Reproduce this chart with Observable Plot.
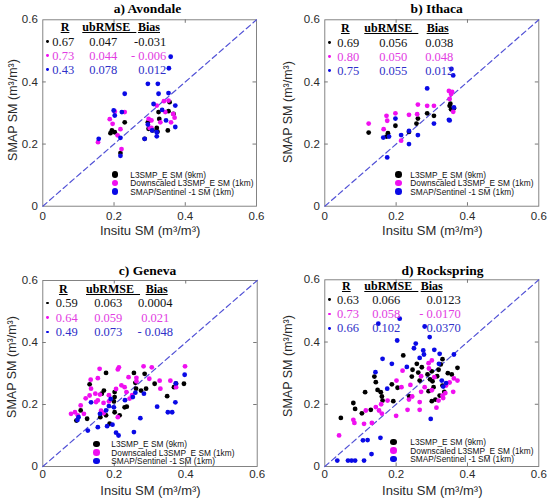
<!DOCTYPE html>
<html><head><meta charset="utf-8">
<script src="https://cdn.jsdelivr.net/npm/d3@7"></script>
<script src="https://cdn.jsdelivr.net/npm/@observablehq/plot@0.6"></script>
<style>
html,body{margin:0;padding:0;background:#fff;}
#root{position:relative;width:550px;height:499px;overflow:hidden;background:#fff;font-family:"Liberation Sans",Arial,sans-serif;}
.cell{position:absolute;width:275px;height:250px;}
.cell svg{position:absolute;left:0;top:0;overflow:visible;}
.t{position:absolute;white-space:nowrap;line-height:1;}
.serif{font-family:"Liberation Serif","Times New Roman",serif;}
.dot{position:absolute;border-radius:50%;}
</style></head>
<body><div id="root"></div>
<script>
// ---------- data ----------
const tickValues = [0, 0.2, 0.4, 0.6];
const innerTicks = [0.2, 0.4];
const oneToOne = [0, 0.6];
const panelTitles = ["a) Avondale", "b) Ithaca", "c) Geneva", "d) Rockspring"];
const seriesLabels = ["L3SMP_E SM (9km)", "Downscaled L3SMP_E SM (1km)", "SMAP/Sentinel -1 SM (1km)"];
const statHeaders = ["R", "ubRMSE", "Bias"];
const statR = [["0.67","0.73","0.43"],["0.69","0.80","0.75"],["0.59","0.64","0.49"],["0.63","0.73","0.66"]];
const statUb = [["0.047","0.044","0.078"],["0.056","0.050","0.055"],["0.063","0.059","0.073"],["0.066","0.058","0.102"]];
const statBias = [["-0.031","- 0.006","0.012"],["0.038","0.048","0.012"],["0.0004","0.021","- 0.048"],["0.0123","- 0.0170","0.0370"]];

// Avondale
const aBlackX = [0.194,0.190,0.202,0.230,0.218,0.295,0.286,0.297,0.308,0.320,0.325,0.327,0.353,0.356,0.367,0.351,0.322];
const aBlackY = [0.244,0.235,0.238,0.270,0.171,0.270,0.217,0.249,0.244,0.252,0.303,0.281,0.306,0.335,0.297,0.244,0.240];
const aMagX = [0.202,0.188,0.155,0.196,0.218,0.230,0.221,0.320,0.353,0.344,0.297,0.305,0.366,0.370,0.305,0.300,0.330,0.360,0.340,0.210];
const aMagY = [0.305,0.280,0.206,0.265,0.248,0.303,0.184,0.324,0.340,0.303,0.281,0.276,0.297,0.285,0.252,0.252,0.270,0.270,0.338,0.228];
const aBlueX = [0.359,0.354,0.295,0.323,0.230,0.325,0.353,0.311,0.372,0.199,0.222,0.202,0.295,0.346,0.307,0.320,0.157,0.218,0.286,0.320,0.218,0.372,0.335];
const aBlueY = [0.481,0.444,0.394,0.394,0.362,0.362,0.364,0.329,0.324,0.308,0.303,0.292,0.263,0.276,0.244,0.238,0.217,0.220,0.217,0.225,0.162,0.255,0.310];
// Ithaca
const bBlackX = [0.123,0.173,0.177,0.198,0.236,0.257,0.261,0.287,0.306,0.350,0.354,0.362,0.352];
const bBlackY = [0.237,0.224,0.235,0.259,0.239,0.266,0.282,0.299,0.291,0.323,0.312,0.315,0.330];
const bMagX = [0.123,0.173,0.175,0.198,0.165,0.214,0.236,0.261,0.259,0.287,0.306,0.348,0.354,0.360,0.350,0.357];
const bMagY = [0.266,0.291,0.275,0.299,0.248,0.211,0.294,0.327,0.296,0.323,0.323,0.371,0.361,0.304,0.345,0.368];
const bBlueX = [0.287,0.355,0.360,0.348,0.350,0.306,0.198,0.164,0.180,0.214,0.236,0.261,0.175,0.236,0.362];
const bBlueY = [0.379,0.442,0.421,0.278,0.276,0.266,0.282,0.221,0.224,0.229,0.200,0.229,0.157,0.242,0.318];
// Geneva
const cBlackX = [0.177,0.255,0.285,0.131,0.171,0.201,0.259,0.261,0.275,0.289,0.313,0.373,0.367,0.395,0.348,0.201,0.199,0.229,0.235,0.201,0.215,0.177,0.161,0.187,0.106,0.094,0.124,0.165];
const cBlackY = [0.302,0.302,0.299,0.265,0.245,0.240,0.270,0.251,0.245,0.251,0.267,0.267,0.256,0.267,0.227,0.224,0.210,0.191,0.193,0.175,0.165,0.165,0.159,0.138,0.181,0.148,0.154,0.235];
const cMagX = [0.159,0.210,0.213,0.282,0.305,0.398,0.154,0.134,0.240,0.298,0.327,0.357,0.373,0.329,0.135,0.131,0.147,0.160,0.185,0.229,0.234,0.154,0.149,0.185,0.106,0.079,0.098,0.090,0.115,0.210,0.163,0.170,0.250,0.262,0.262,0.220,0.243,0.120,0.170,0.205];
const cMagY = [0.315,0.313,0.320,0.323,0.320,0.323,0.285,0.280,0.288,0.283,0.277,0.277,0.256,0.251,0.251,0.229,0.235,0.232,0.230,0.256,0.240,0.213,0.208,0.210,0.197,0.170,0.165,0.175,0.170,0.159,0.180,0.172,0.230,0.275,0.286,0.262,0.219,0.220,0.205,0.250];
const cBlueX = [0.397,0.259,0.252,0.283,0.190,0.135,0.199,0.185,0.320,0.350,0.362,0.371,0.177,0.160,0.100,0.097,0.273,0.180,0.154,0.126,0.205,0.212,0.255,0.195,0.230,0.372];
const cBlueY = [0.296,0.238,0.224,0.235,0.218,0.207,0.191,0.195,0.193,0.175,0.175,0.207,0.181,0.170,0.159,0.150,0.156,0.130,0.127,0.116,0.109,0.100,0.111,0.135,0.214,0.268];
// Rockspring
const dBlackX = [0.045,0.080,0.085,0.104,0.113,0.129,0.139,0.143,0.148,0.157,0.160,0.162,0.192,0.188,0.204,0.220,0.237,0.244,0.246,0.258,0.262,0.266,0.272,0.288,0.291,0.300,0.302,0.319,0.325,0.330,0.356,0.372,0.300,0.322,0.310,0.295,0.335,0.345,0.315,0.330,0.305];
const dBlackY = [0.156,0.204,0.185,0.171,0.239,0.182,0.289,0.271,0.246,0.239,0.225,0.212,0.210,0.264,0.253,0.357,0.225,0.289,0.311,0.330,0.302,0.276,0.319,0.296,0.242,0.306,0.274,0.311,0.328,0.260,0.296,0.317,0.210,0.228,0.215,0.280,0.240,0.300,0.290,0.345,0.255];
const dMagX = [0.040,0.080,0.083,0.110,0.132,0.115,0.143,0.152,0.158,0.160,0.176,0.201,0.218,0.232,0.236,0.240,0.266,0.266,0.270,0.291,0.300,0.292,0.307,0.319,0.330,0.332,0.338,0.340,0.350,0.362,0.372,0.360,0.313,0.270,0.280,0.300,0.245,0.200,0.215];
const dMagY = [0.100,0.150,0.140,0.137,0.140,0.180,0.191,0.180,0.200,0.170,0.212,0.276,0.308,0.182,0.215,0.262,0.207,0.182,0.240,0.332,0.341,0.315,0.287,0.212,0.228,0.220,0.236,0.260,0.270,0.283,0.276,0.240,0.189,0.290,0.255,0.245,0.225,0.163,0.255];
const dBlueX = [0.210,0.294,0.280,0.150,0.203,0.162,0.188,0.142,0.266,0.276,0.278,0.307,0.322,0.320,0.362,0.328,0.332,0.340,0.297,0.156,0.107,0.131,0.035,0.065,0.075,0.085,0.110,0.250,0.255,0.230,0.175,0.120];
const dBlueY = [0.475,0.416,0.450,0.459,0.405,0.346,0.330,0.303,0.349,0.373,0.360,0.375,0.362,0.330,0.360,0.276,0.257,0.268,0.153,0.092,0.084,0.040,0.019,0.019,0.019,0.019,0.019,0.380,0.395,0.320,0.250,0.085];

const panelSeries = [
  [[aBlackX, aBlackY], [aMagX, aMagY], [aBlueX, aBlueY]],
  [[bBlackX, bBlackY], [bMagX, bMagY], [bBlueX, bBlueY]],
  [[cBlackX, cBlackY], [cMagX, cMagY], [cBlueX, cBlueY]],
  [[dBlackX, dBlackY], [dMagX, dMagY], [dBlueX, dBlueY]]
];

// ---------- styling / layout ----------
const pointColors = ["#000000", "#f010f0", "#0a0ae6"];
const textColors = ["#111111", "#e23ce2", "#2f2fc8"];
const layout = [
  {cx:0,   cy:0,   L:42.3, R:19,   T:19.3, B:44.3, title:[147.5,9],    tickPad:6,   ylabX:-29,   ylabY:110,
   bullet:5, hR:22.7, hUb:64,   hBias:106.7, cR:21,   cUb:61,   cBias:124, biasAnchor:"right",  rowY:[7.4,22.2,36.2,50.2], lgDot:72.7, lgText:88, lgY:[-31,-22.5,-14]},
  {cx:275, cy:0,   L:49.3, R:11.7, T:19.3, B:44.3, title:[161.7,9],    tickPad:6,   ylabX:-36,   ylabY:111.7,
   bullet:5, hR:21,   hUb:64,   hBias:113.4, cR:24,   cUb:69,   cBias:129, biasAnchor:"right",  rowY:[9,23.5,37.5,51.5],     lgDot:74,   lgText:86, lgY:[-31,-22.5,-14]},
  {cx:0,   cy:250, L:42.3, R:18.3, T:30,   B:34,   title:[147.5,20.7], tickPad:3.5, ylabX:-30.6, ylabY:117,
   bullet:5, hR:21,   hUb:67.7, hBias:114.4, cR:24.5, cUb:66,   cBias:113, biasAnchor:"center", rowY:[8.5,23,37.5,52],  lgDot:54.4, lgText:69, lgY:[-22,-13.5,-5]},
  {cx:275, cy:250, L:49.3, R:11.7, T:29.3, B:34,   title:[167.5,20.7], tickPad:3.5, ylabX:-36,   ylabY:115.7,
   bullet:5, hR:22,   hUb:64,   hBias:107.4, cR:23.7, cUb:62,   cBias:136.5, biasAnchor:"right", rowY:[7,20.5,34.8,49.1], lgDot:69,   lgText:86, lgY:[-24,-15.5,-7]}
];

const root = document.getElementById("root");
const fmt = d => d === 0 ? "0" : d.toFixed(1);

function addText(cell, txt, x, y, opts = {}) {
  const el = document.createElement("div");
  el.className = "t" + (opts.serif ? " serif" : "");
  el.textContent = txt;
  el.style.left = x + "px";
  el.style.top = y + "px";
  el.style.fontSize = (opts.size || 12) + "px";
  if (opts.bold) el.style.fontWeight = "bold";
  if (opts.underline) el.style.textDecoration = "underline";
  el.style.color = opts.color || "#111";
  if (opts.anchor === "left") el.style.transform = "translate(0,-50%)";
  else if (opts.anchor === "right") el.style.transform = "translate(-100%,-50%)";
  else if (opts.rotate) el.style.transform = "translate(-50%,-50%) rotate(-90deg)";
  else el.style.transform = "translate(-50%,-50%)";
  cell.appendChild(el);
  return el;
}
function addDot(cell, x, y, d, color) {
  const el = document.createElement("div");
  el.className = "dot";
  el.style.left = (x - d / 2) + "px";
  el.style.top = (y - d / 2) + "px";
  el.style.width = d + "px";
  el.style.height = d + "px";
  el.style.background = color;
  cell.appendChild(el);
}

panelTitles.forEach((title, p) => {
  const g = layout[p];
  const W = 275, H = 250;
  const fw = W - g.L - g.R, fh = H - g.T - g.B;
  const cell = document.createElement("div");
  cell.className = "cell";
  cell.style.left = g.cx + "px";
  cell.style.top = g.cy + "px";
  root.appendChild(cell);

  const marks = [
    Plot.axisX({ticks: tickValues, tickSize: 0, tickPadding: g.tickPad, tickFormat: fmt, label: null, fill: "#2a2a2a"}),
    Plot.axisY({ticks: tickValues, tickSize: 0, tickPadding: 5, tickFormat: fmt, label: null, fill: "#2a2a2a"}),
    Plot.ruleX(innerTicks, {x: d => d, insetTop: fh - 3.5, stroke: "#555", strokeWidth: 0.8}),
    Plot.ruleX(innerTicks, {x: d => d, insetBottom: fh - 3.5, stroke: "#555", strokeWidth: 0.8}),
    Plot.ruleY(innerTicks, {y: d => d, insetRight: fw - 3.5, stroke: "#555", strokeWidth: 0.8}),
    Plot.ruleY(innerTicks, {y: d => d, insetLeft: fw - 3.5, stroke: "#555", strokeWidth: 0.8}),
    Plot.frame({stroke: "#777", strokeWidth: 0.9}),
    Plot.line(oneToOne, {x: d => d, y: d => d, stroke: "#5252d6", strokeWidth: 1.2, strokeDasharray: "5.5,3.5"})
  ];
  panelSeries[p].forEach(([xs, ys], s) => {
    marks.push(Plot.dot(xs, {x: xs, y: ys, r: 2.4, fill: pointColors[s], stroke: "none"}));
  });

  const svg = Plot.plot({
    width: W, height: H,
    marginLeft: g.L, marginRight: g.R, marginTop: g.T, marginBottom: g.B,
    x: {domain: [0, 0.6]}, y: {domain: [0, 0.6]},
    style: {fontFamily: "'Liberation Sans', Arial, sans-serif", fontSize: "11.5px", background: "transparent", color: "#2a2a2a"},
    marks
  });
  cell.appendChild(svg);

  // title
  addText(cell, title, g.title[0], g.title[1], {serif: true, bold: true, size: 13.5, color: "#000"});
  // axis labels
  const fcx = g.L + fw / 2;
  addText(cell, "Insitu SM (m\u00b3/m\u00b3)", fcx + 1, H - g.B + 24, {size: 13, color: "#2a2a2a"});
  addText(cell, "SMAP SM (m\u00b3/m\u00b3)", g.L + g.ylabX, g.ylabY, {size: 12.5, rotate: true, color: "#2a2a2a"});

  // stats table
  const top = g.T;
  const hy = top + g.rowY[0];
  addText(cell, statHeaders[0], g.L + g.hR, hy, {serif: true, bold: true, underline: true, size: 12, color: "#000"});
  addText(cell, statHeaders[1] + "\u00a0\u00a0", g.L + g.hUb + 3, hy, {serif: true, bold: true, underline: true, size: 12, color: "#000"});
  addText(cell, statHeaders[2], g.L + g.hBias, hy, {serif: true, bold: true, underline: true, size: 12, color: "#000"});
  for (let s = 0; s < 3; s++) {
    const y = top + g.rowY[s + 1];
    addDot(cell, g.L + g.bullet, y, 2.8, pointColors[s]);
    addText(cell, statR[p][s], g.L + g.cR, y, {serif: true, size: 12.5, color: textColors[s]});
    addText(cell, statUb[p][s], g.L + g.cUb, y, {serif: true, size: 12.5, color: textColors[s]});
    addText(cell, statBias[p][s], g.L + g.cBias, y, {serif: true, size: 12.5, color: textColors[s], anchor: g.biasAnchor === "right" ? "right" : undefined});
  }

  // legend
  const bottom = H - g.B;
  for (let s = 0; s < 3; s++) {
    const y = bottom + g.lgY[s];
    addDot(cell, g.L + g.lgDot, y, 6.5, pointColors[s]);
    addText(cell, seriesLabels[s], g.L + g.lgText, y, {size: 8.3, anchor: "left", color: "#111"});
  }
});
</script>
</body></html>
